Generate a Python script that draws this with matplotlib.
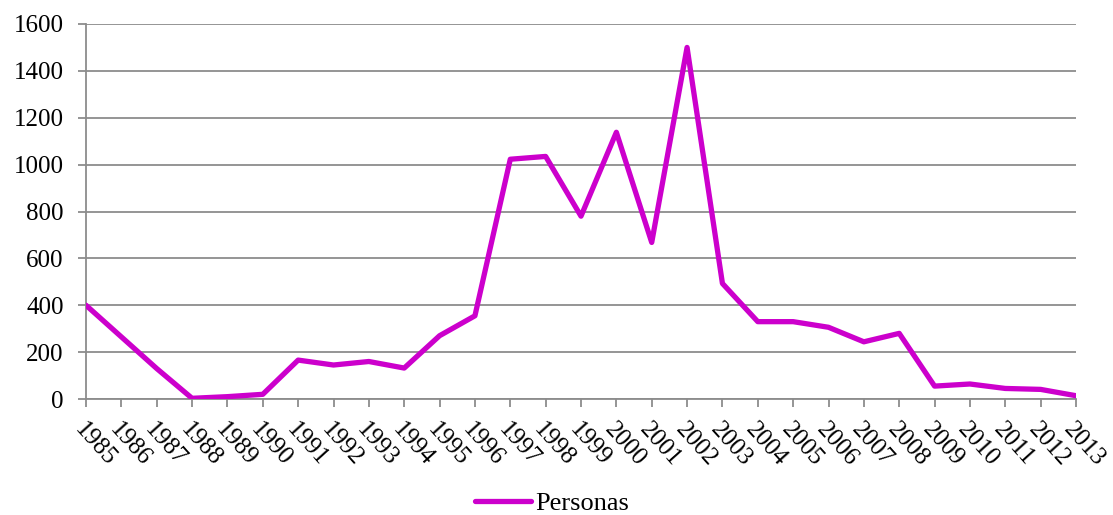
import matplotlib
matplotlib.use("Agg")
import matplotlib.pyplot as plt

years = list(range(1985, 2014))
personas = [400, 265, 130, 3, 10, 20, 166, 145, 160, 132, 270, 355,
            1023, 1035, 780, 1138, 668, 1500, 493, 330, 330, 306, 244,
            280, 55, 64, 45, 41, 14]
y_ticks = [0, 200, 400, 600, 800, 1000, 1200, 1400, 1600]

plt.rcParams['font.family'] = ['Liberation Serif', 'DejaVu Serif']
grid_c = '#8c8c8c'
line_c = '#cc00cc'

fig = plt.figure(figsize=(11.13, 5.15), dpi=100)
ax = fig.add_axes([86 / 1113, 1 - 399 / 515, (1076 - 86) / 1113, (399 - 24) / 515])

ax.plot(years, personas, color=line_c, lw=3.8, solid_joinstyle='round',
        solid_capstyle='round', label='Personas', zorder=3)

ax.set_xlim(1985, 2013)
ax.set_ylim(0, 1600)
ax.set_yticks(y_ticks)
ax.set_xticks(years)
ax.set_xticklabels([str(y) for y in years], rotation=-48, ha='left',
                   va='top', rotation_mode='anchor')
ax.yaxis.grid(True, color=grid_c, lw=1.3)
ax.set_axisbelow(True)
for s in ['top', 'right']:
    ax.spines[s].set_visible(False)
for s in ['left', 'bottom']:
    ax.spines[s].set_color(grid_c)
    ax.spines[s].set_linewidth(1.3)
ax.tick_params(axis='both', colors=grid_c, labelcolor='black',
               labelsize=18, length=6, width=1.3)
ax.tick_params(axis='y', pad=10)
ax.tick_params(axis='x', pad=8)

leg = ax.legend(loc='center', bbox_to_anchor=((552 - 86) / 990, (503 - 399) / -375),
                frameon=False, fontsize=19, handlelength=2.1,
                handletextpad=0.15)

fig.savefig('out.png', dpi=100)
